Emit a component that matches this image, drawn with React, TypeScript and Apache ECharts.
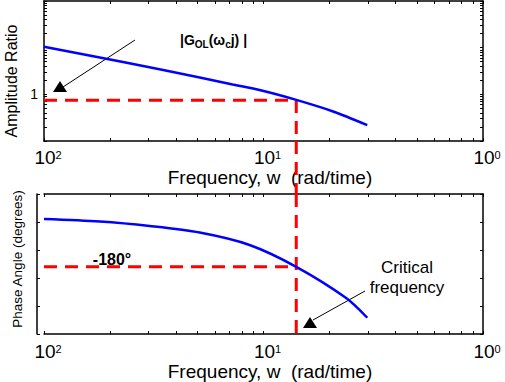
import React, { useEffect, useRef } from "react";
import * as echarts from "echarts";

// ---- data ----
const freqAmp = [0.01, 0.0226, 0.0512, 0.0723, 0.097, 0.141, 0.206, 0.297];
const ampRatio = [10.5, 5.0, 2.3, 1.63, 1.22, 0.76, 0.435, 0.219];
const freqPhase = [0.01, 0.018, 0.0303, 0.0512, 0.0864, 0.141, 0.238, 0.297];
const phaseDeg = [-94.6, -99.1, -107.1, -118.8, -141, -180, -235.7, -271];
const critFreq = 0.141;
const critAmp = 0.745;
const critPhase = -180;
const startFreq = 0.01;

// ---- ticks / labels ----
const xLabelValues = [0.01, 0.1, 1];
const xLabelExps = ["2", "1", "0"];
const xTickValues = [
  0.01, 0.02, 0.03, 0.04, 0.05, 0.06, 0.07, 0.08, 0.09,
  0.1, 0.2, 0.3, 0.4, 0.5, 0.6, 0.7, 0.8, 0.9, 1,
];
const ampTickValues = [
  0.1, 0.2, 0.3, 0.4, 0.5, 0.6, 0.7, 0.8, 0.9,
  1, 2, 3, 4, 5, 6, 7, 8, 9,
  10, 20, 30, 40, 50, 60, 70, 80, 90, 100,
];
const ampLabelValues = [1];
const ampLabelTexts = ["1"];

const FONT = "Liberation Sans, Arial, Helvetica, sans-serif";
const BLUE = "#0000ff";
const RED = "#ff0000";

const sameVal = (a: number, b: number) =>
  Math.abs(Math.log10(a) - Math.log10(b)) < 1e-6;

const axisLine = { show: true, lineStyle: { color: "#000", width: 1.5 } };

function xAxisDef(gridIndex: number, position: string, showLabel: boolean, margin: number) {
  return {
    type: "log",
    logBase: 10,
    gridIndex,
    position,
    min: 0.01,
    max: 1,
    axisLine,
    splitLine: { show: false },
    minorTick: { show: false },
    axisTick: {
      show: true,
      inside: true,
      length: 3,
      customValues: xTickValues,
      lineStyle: { color: "#000", width: 1 },
    },
    axisLabel: showLabel
      ? {
          show: true,
          margin,
          customValues: xLabelValues,
          formatter: (v: number) => {
            const i = xLabelValues.findIndex((t) => sameVal(t, v));
            return i >= 0 ? `{a|10}{b|${xLabelExps[i]}}` : "";
          },
          rich: {
            a: { fontSize: 19, lineHeight: 15, fontFamily: FONT, color: "#000", padding: [0, 0, 0, 8] },
            b: { fontSize: 11, lineHeight: 9, fontFamily: FONT, color: "#000", padding: [0, 0, 6, 0] },
          },
        }
      : { show: false },
  };
}

export default function App() {
  const ref = useRef<HTMLDivElement>(null);

  useEffect(() => {
    document.body.style.margin = "0";
    const chart = echarts.init(ref.current!, undefined, { renderer: "svg" });

    const guideStyle = { color: RED, width: 3, type: [13, 8] };

    const option: any = {
      animation: false,
      backgroundColor: "#fff",
      textStyle: { fontFamily: FONT },
      grid: [
        { left: 44, top: 1, width: 439, height: 140, outerBoundsMode: "none" },
        { left: 44, top: 194, width: 439, height: 140, outerBoundsMode: "none" },
      ],
      xAxis: [
        xAxisDef(0, "bottom", true, 9),
        xAxisDef(0, "top", false, 0),
        xAxisDef(1, "bottom", true, 10),
        xAxisDef(1, "top", false, 0),
      ],
      yAxis: [
        {
          type: "log",
          logBase: 10,
          gridIndex: 0,
          position: "left",
          min: 0.1,
          max: 100,
          axisLine,
          splitLine: { show: false },
          minorTick: { show: false },
          axisTick: {
            show: true,
            inside: true,
            length: 3,
            customValues: ampTickValues,
            lineStyle: { color: "#000", width: 1 },
          },
          axisLabel: {
            show: true,
            margin: 6,
            fontSize: 14,
            color: "#000",
            fontFamily: FONT,
            customValues: ampLabelValues,
            formatter: (v: number) => {
              const i = ampLabelValues.findIndex((t) => sameVal(t, v));
              return i >= 0 ? ampLabelTexts[i] : "";
            },
          },
        },
        {
          type: "log",
          logBase: 10,
          gridIndex: 0,
          position: "right",
          min: 0.1,
          max: 100,
          axisLine,
          splitLine: { show: false },
          minorTick: { show: false },
          axisTick: {
            show: true,
            inside: true,
            length: 3,
            customValues: ampTickValues,
            lineStyle: { color: "#000", width: 1 },
          },
          axisLabel: { show: false },
        },
        {
          type: "value",
          gridIndex: 1,
          position: "left",
          offset: 7,
          min: -300,
          max: -50,
          interval: 50,
          axisLine,
          splitLine: { show: false },
          axisTick: { show: true, inside: true, length: 3, lineStyle: { color: "#000", width: 1 } },
          axisLabel: { show: false },
        },
        {
          type: "value",
          gridIndex: 1,
          position: "right",
          min: -300,
          max: -50,
          interval: 50,
          axisLine,
          splitLine: { show: false },
          axisTick: { show: true, inside: true, length: 3, lineStyle: { color: "#000", width: 1 } },
          axisLabel: { show: false },
        },
      ],
      series: [
        {
          name: "Amplitude Ratio",
          type: "line",
          xAxisIndex: 0,
          yAxisIndex: 0,
          data: freqAmp.map((f, i) => [f, ampRatio[i]]),
          showSymbol: false,
          smooth: 0.3,
          lineStyle: { color: BLUE, width: 2.5 },
          z: 3,
        },
        {
          name: "Phase Angle",
          type: "line",
          xAxisIndex: 2,
          yAxisIndex: 2,
          data: freqPhase.map((f, i) => [f, phaseDeg[i]]),
          showSymbol: false,
          smooth: 0.3,
          lineStyle: { color: BLUE, width: 2.5 },
          z: 3,
        },
        {
          name: "AR guide",
          type: "line",
          xAxisIndex: 0,
          yAxisIndex: 0,
          data: [
            [startFreq, critAmp],
            [critFreq, critAmp],
            [critFreq, 0.1],
          ],
          showSymbol: false,
          lineStyle: guideStyle,
          z: 2,
        },
        {
          name: "Phase guide",
          type: "line",
          xAxisIndex: 2,
          yAxisIndex: 2,
          data: [
            [startFreq, critPhase],
            [critFreq, critPhase],
          ],
          showSymbol: false,
          lineStyle: guideStyle,
          z: 2,
        },
        {
          name: "Critical line",
          type: "line",
          xAxisIndex: 2,
          yAxisIndex: 2,
          data: [
            [critFreq, -50],
            [critFreq, -300],
          ],
          showSymbol: false,
          lineStyle: guideStyle,
          z: 2,
        },
      ],
    };
    chart.setOption(option);

    const pTop = chart.convertToPixel({ xAxisIndex: 0, yAxisIndex: 0 }, [critFreq, 0.1]) as number[];
    const pBot = chart.convertToPixel({ xAxisIndex: 2, yAxisIndex: 2 }, [critFreq, -50]) as number[];

    const graphic: any[] = [
      {
        type: "line",
        shape: { x1: pTop[0], y1: pTop[1], x2: pBot[0], y2: pBot[1] },
        style: { stroke: RED, lineWidth: 3, lineDash: [13, 8] },
        z: 2,
      },
      {
        type: "text",
        x: 11,
        y: 81,
        rotation: Math.PI / 2,
        style: { text: "Amplitude Ratio", fontSize: 16, fontFamily: FONT, fill: "#000", align: "center", verticalAlign: "middle" },
      },
      {
        type: "text",
        x: 17,
        y: 259,
        rotation: Math.PI / 2,
        style: { text: "Phase Angle (degrees)", fontSize: 13.5, fontFamily: FONT, fill: "#000", align: "center", verticalAlign: "middle" },
      },
      {
        type: "text",
        x: 270,
        y: 177,
        style: { text: "Frequency, w  (rad/time)", fontSize: 19, lineHeight: 15, fontFamily: FONT, fill: "#000", align: "center", verticalAlign: "middle" },
      },
      {
        type: "text",
        x: 270,
        y: 371,
        style: { text: "Frequency, w  (rad/time)", fontSize: 19, lineHeight: 15, fontFamily: FONT, fill: "#000", align: "center", verticalAlign: "middle" },
      },
      {
        type: "text",
        x: 180,
        y: 40,
        style: {
          text: "{n||G}{s|OL}{n|(}{n|ω}{s|c}{n|j) |}",
          align: "left",
          verticalAlign: "middle",
          fill: "#000",
          rich: {
            n: { fontSize: 14, fontWeight: "bold", fontFamily: FONT, fill: "#000" },
            s: { fontSize: 10, fontWeight: "bold", fontFamily: FONT, fill: "#000", padding: [8, 0, 0, 0] },
          },
        },
      },
      {
        type: "line",
        shape: { x1: 135, y1: 40, x2: 63, y2: 87 },
        style: { stroke: "#000", lineWidth: 1 },
      },
      {
        type: "polygon",
        shape: { points: [[60, 81], [53, 92], [67, 92]] },
        style: { fill: "#000" },
      },
      {
        type: "text",
        x: 112,
        y: 259,
        style: { text: "-180°", fontSize: 16, fontWeight: "bold", fontFamily: FONT, fill: "#000", align: "center", verticalAlign: "middle" },
      },
      {
        type: "text",
        x: 407,
        y: 277,
        style: { text: "Critical\nfrequency", fontSize: 17, lineHeight: 20, fontFamily: FONT, fill: "#000", align: "center", verticalAlign: "middle" },
      },
      {
        type: "line",
        shape: { x1: 365, y1: 291, x2: 313, y2: 320 },
        style: { stroke: "#000", lineWidth: 1 },
      },
      {
        type: "polygon",
        shape: { points: [[310, 317], [303, 328], [317, 328]] },
        style: { fill: "#000" },
      },
    ];
    chart.setOption({ graphic });

    return () => chart.dispose();
  }, []);

  return (
    <div
      ref={ref}
      style={{ position: "absolute", left: 0, top: 0, width: 505, height: 382, background: "#fff" }}
    />
  );
}
